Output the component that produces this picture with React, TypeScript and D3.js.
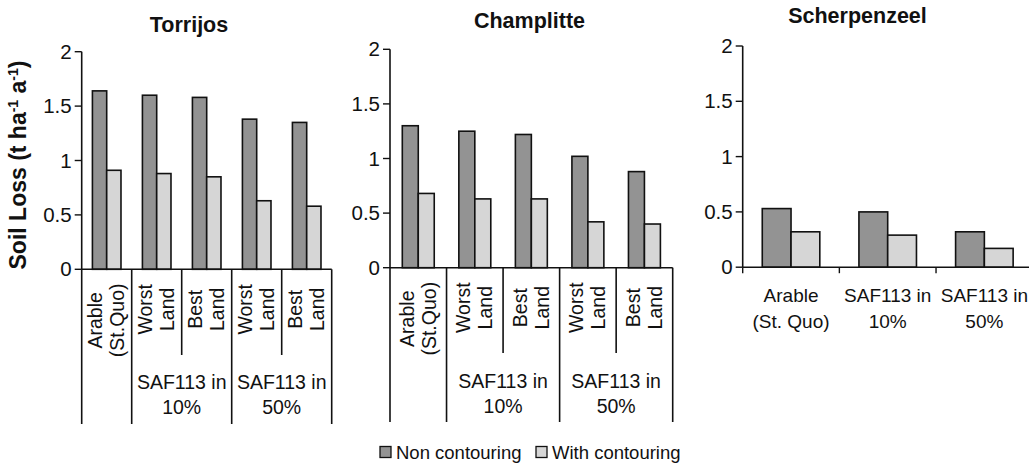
import React from "react";
import * as d3 from "d3";

// Soil loss (t ha-1 a-1) per site and land-use scenario
const seriesNames = ["Non contouring", "With contouring"];
const seriesColors = ["#939393", "#d6d6d6"];

const torrijosNon = [1.64, 1.6, 1.58, 1.38, 1.35];
const torrijosWith = [0.91, 0.88, 0.85, 0.63, 0.58];

const champlitteNon = [1.3, 1.25, 1.22, 1.02, 0.88];
const champlitteWith = [0.68, 0.63, 0.63, 0.42, 0.4];

const scherpenzeelNon = [0.53, 0.5, 0.32];
const scherpenzeelWith = [0.32, 0.29, 0.17];

// Two-level category labels (rotated inner level, grouped outer level)
const innerLabels = [
  ["Arable", "(St.Quo)"],
  ["Worst", "Land"],
  ["Best", "Land"],
  ["Worst", "Land"],
  ["Best", "Land"],
];
const outerGroups = [
  { lines: ["SAF113 in", "10%"], from: 1, to: 2 },
  { lines: ["SAF113 in", "50%"], from: 3, to: 4 },
];
const longBoundaries = [0, 1, 3, 5];

const scherpenzeelLabels = [
  ["Arable", "(St. Quo)"],
  ["SAF113 in", "10%"],
  ["SAF113 in", "50%"],
];

const yTicks = [0, 0.5, 1, 1.5, 2];

const FONT = "'Liberation Sans', Arial, Helvetica, sans-serif";

type PanelProps = {
  title: string;
  titleX: number;
  titleY: number;
  non: number[];
  withC: number[];
  left: number;
  right: number;
  y0: number;
  y2: number;
  pad: number;
  hierarchical: boolean;
  longEnd?: number;
  shortEnd?: number;
};

function Panel(p: PanelProps) {
  const n = p.non.length;
  const cats = d3.range(n).map(String);
  const x0 = d3.scaleBand<string>().domain(cats).range([p.left, p.right]).padding(0);
  const x1 = d3
    .scaleBand<string>()
    .domain(seriesNames)
    .range([0, x0.bandwidth()])
    .paddingInner(0)
    .paddingOuter(p.pad);
  const y = d3.scaleLinear().domain([0, 2]).range([p.y0, p.y2]);
  const bw = x0.bandwidth();
  const boundaries = d3.range(n + 1).map((i) => p.left + i * bw);

  return (
    <g>
      <text
        x={p.titleX}
        y={p.titleY}
        textAnchor="middle"
        fontFamily={FONT}
        fontWeight="bold"
        fontSize={21.5}
        fill="#111"
      >
        {p.title}
      </text>

      {/* bars */}
      {cats.map((c, i) => (
        <g key={c} transform={`translate(${x0(c)},0)`}>
          {[p.non[i], p.withC[i]].map((v, s) => (
            <rect
              key={s}
              x={x1(seriesNames[s])}
              y={y(v)}
              width={x1.bandwidth()}
              height={y(0) - y(v)}
              fill={seriesColors[s]}
              stroke="#111"
              strokeWidth={1.6}
            />
          ))}
        </g>
      ))}

      {/* y axis */}
      <line x1={p.left} x2={p.left} y1={y(2)} y2={y(0)} stroke="#111" strokeWidth={1.6} />
      {yTicks.map((t) => (
        <g key={t}>
          <line x1={p.left - 7} x2={p.left} y1={y(t)} y2={y(t)} stroke="#111" strokeWidth={1.4} />
          <text
            x={p.left - 10}
            y={y(t)}
            dy="0.35em"
            textAnchor="end"
            fontFamily={FONT}
            fontSize={20.5}
            fill="#111"
          >
            {t}
          </text>
        </g>
      ))}

      {/* x axis */}
      <line
        x1={p.left}
        x2={p.hierarchical ? p.right : 1029}
        y1={y(0)}
        y2={y(0)}
        stroke="#111"
        strokeWidth={1.6}
      />

      {p.hierarchical ? (
        <g>
          {boundaries.map((bx, i) => (
            <line
              key={i}
              x1={bx}
              x2={bx}
              y1={y(0)}
              y2={longBoundaries.includes(i) ? p.longEnd : p.shortEnd}
              stroke="#111"
              strokeWidth={1.6}
            />
          ))}
          {innerLabels.map((lines, i) => {
            const cx = (x0(String(i)) as number) + bw / 2;
            const cy = y(0) + (i === 0 ? 51 : 40);
            return lines.map((ln, k) => {
              const tx = cx + (k === 0 ? -11.5 : 10.5);
              return (
                <text
                  key={`${i}-${k}`}
                  transform={`translate(${tx},${cy}) rotate(-90)`}
                  textAnchor="middle"
                  dy="0.35em"
                  fontFamily={FONT}
                  fontSize={19.5}
                  fill="#111"
                >
                  {ln}
                </text>
              );
            });
          })}
          {outerGroups.map((g, gi) => {
            const cx = (boundaries[g.from] + boundaries[g.to + 1]) / 2;
            return g.lines.map((ln, k) => (
              <text
                key={`${gi}-${k}`}
                x={cx}
                y={y(0) + 120 + k * 25}
                textAnchor="middle"
                fontFamily={FONT}
                fontSize={19.5}
                fill="#111"
              >
                {ln}
              </text>
            ));
          })}
        </g>
      ) : (
        <g>
          {boundaries.map((bx, i) => (
            <line key={i} x1={bx} x2={bx} y1={y(0)} y2={y(0) + 6} stroke="#111" strokeWidth={1.4} />
          ))}
          {scherpenzeelLabels.map((lines, i) => {
            const cx = (x0(String(i)) as number) + bw / 2;
            return lines.map((ln, k) => (
              <text
                key={`${i}-${k}`}
                x={cx}
                y={y(0) + 35 + k * 25.5}
                textAnchor="middle"
                fontFamily={FONT}
                fontSize={19}
                fill="#111"
              >
                {ln}
              </text>
            ));
          })}
        </g>
      )}
    </g>
  );
}

export default function App() {
  return (
    <svg
      width={1029}
      height={464}
      style={{ position: "absolute", left: 0, top: 0, background: "#fff" }}
    >
      <rect width={1029} height={464} fill="#fff" />
      <Panel
        title="Torrijos"
        titleX={189}
        titleY={32}
        non={torrijosNon}
        withC={torrijosWith}
        left={81.7}
        right={331.7}
        y0={269.3}
        y2={51.7}
        pad={0.75}
        hierarchical
        longEnd={424}
        shortEnd={355}
      />
      <Panel
        title="Champlitte"
        titleX={529.5}
        titleY={28}
        non={champlitteNon}
        withC={champlitteWith}
        left={390}
        right={672.7}
        y0={267.7}
        y2={49.3}
        pad={0.77}
        hierarchical
        longEnd={422}
        shortEnd={353}
      />
      <Panel
        title="Scherpenzeel"
        titleX={857.5}
        titleY={23}
        non={scherpenzeelNon}
        withC={scherpenzeelWith}
        left={742.7}
        right={1032.7}
        y0={267.2}
        y2={46}
        pad={0.68}
        hierarchical={false}
      />

      {/* y axis title */}
      <text
        transform="translate(18,165) rotate(-90)"
        textAnchor="middle"
        dy="0.35em"
        fontFamily={FONT}
        fontWeight="bold"
        fontSize={23}
        fill="#111"
      >
        Soil Loss (t ha
        <tspan dy="-8" fontSize={14}>-1</tspan>
        <tspan dy="8"> a</tspan>
        <tspan dy="-8" fontSize={14}>-1</tspan>
        <tspan dy="8">)</tspan>
      </text>

      {/* legend */}
      {seriesNames.map((name, i) => {
        const lx = i === 0 ? 380 : 536;
        return (
          <g key={name}>
            <rect x={lx} y={446.5} width={11} height={11} fill={seriesColors[i]} stroke="#111" strokeWidth={1.3} />
            <text x={lx + 16} y={458.5} fontFamily={FONT} fontSize={18.5} fill="#111">
              {name}
            </text>
          </g>
        );
      })}
    </svg>
  );
}
